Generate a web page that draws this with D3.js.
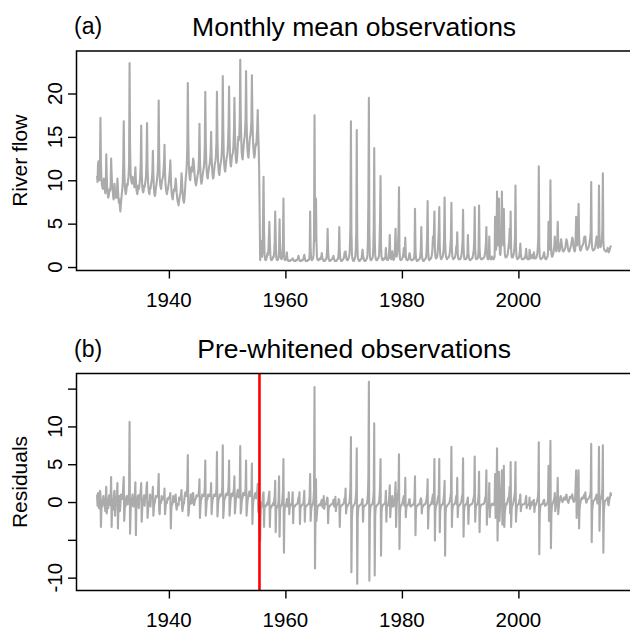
<!DOCTYPE html>
<html><head><meta charset="utf-8">
<script src="https://cdn.jsdelivr.net/npm/d3@7/dist/d3.min.js"></script>
<style>
body{margin:0;background:#fff}
svg{display:block}
text{font-family:"Liberation Sans",Arial,Helvetica,sans-serif;fill:#000}
</style>
</head><body>
<svg id="chart" width="630" height="633"></svg>
<script>
// ---------------- DATA ----------------
const startYear = 1927;               // first row = Sep–Dec 1927, then one row (Jan..Dec) per year
const xTicks = [1940, 1960, 1980, 2000];
const flowTicks = [0, 5, 10, 15, 20];
const residTicks = [-10, -5, 0, 5, 10, 15];
const residTickLabels = ["-10", "", "0", "5", "10", ""];
const changePoint = 1955.55;
const titleA = "Monthly mean observations";
const titleB = "Pre-whitened observations";

// Monthly mean river flow
const flow = [
/*1927*/[10.5,9.8,11.8,12.2],
/*1928*/[10.5,10.0,11.5,17.2,12.0,10.2,9.5,9.2,9.0,9.6,10.2,9.8],
/*1929*/[9.0,8.5,9.2,13.0,10.5,9.0,8.4,8.0,8.2,8.6,9.0,8.8],
/*1930*/[9.4,12.5,10.8,9.5,9.0,8.3,7.8,8.2,9.6,8.5,8.0,8.3],
/*1931*/[8.0,8.6,10.2,9.0,8.0,7.4,7.8,7.0,6.4,7.2,7.8,8.4],
/*1932*/[9.0,9.8,12.0,16.8,11.5,9.5,8.8,8.4,8.6,9.2,9.6,9.4],
/*1933*/[10.0,10.5,12.0,23.5,14.0,11.0,10.2,9.8,9.6,10.4,10.2,9.8],
/*1934*/[9.6,9.2,10.4,11.5,10.0,9.0,8.6,8.4,8.8,9.4,9.0,9.2],
/*1935*/[9.8,10.5,12.0,16.3,11.0,9.4,8.8,8.6,8.8,9.4,9.2,9.6],
/*1936*/[10.0,10.6,12.5,16.6,11.5,9.8,9.0,8.6,8.4,9.2,9.0,9.4],
/*1937*/[9.8,10.2,11.0,13.4,10.8,9.2,8.5,8.2,8.4,9.0,9.4,9.8],
/*1938*/[10.4,11.0,12.8,19.2,13.0,10.4,9.6,9.2,9.0,9.6,10.0,10.2],
/*1939*/[10.5,11.2,12.0,14.1,11.0,9.6,9.0,8.6,8.4,8.8,9.0,9.4],
/*1940*/[9.8,10.5,11.2,12.3,10.5,9.0,8.4,8.0,7.8,8.4,8.8,9.0],
/*1941*/[8.8,9.4,10.2,9.6,8.6,8.0,7.6,7.4,7.1,7.6,8.0,8.4],
/*1942*/[8.6,9.4,10.8,10.0,8.8,8.0,7.6,7.4,7.8,8.6,9.6,10.4],
/*1943*/[11.0,12.0,14.0,21.2,15.0,12.0,10.8,10.2,10.0,10.8,11.5,11.2],
/*1944*/[11.0,11.8,12.5,12.2,11.5,10.6,10.0,9.6,9.4,9.8,10.2,10.6],
/*1945*/[10.8,11.4,12.5,16.5,12.5,10.8,10.0,9.6,9.8,10.4,10.8,11.2],
/*1946*/[11.5,12.2,14.0,20.2,14.5,12.0,11.0,10.4,10.2,10.8,11.2,11.6],
/*1947*/[11.8,12.4,13.2,15.6,12.8,11.4,10.6,10.2,10.4,11.0,11.6,12.0],
/*1948*/[12.2,13.0,14.5,20.2,15.0,12.6,11.4,10.8,10.6,11.2,11.8,12.0],
/*1949*/[12.4,13.2,15.0,22.0,16.0,13.0,11.8,11.2,11.0,11.6,12.2,12.6],
/*1950*/[12.8,13.4,14.5,16.5,20.8,15.0,12.6,11.8,11.6,12.2,12.8,13.0],
/*1951*/[13.2,14.0,15.5,19.5,15.8,13.5,12.4,12.0,12.2,13.0,14.2,15.0],
/*1952*/[14.6,15.2,17.0,23.9,17.5,14.8,13.2,12.6,12.4,13.2,14.0,14.6],
/*1953*/[15.0,15.6,17.2,22.6,17.0,14.6,13.4,12.8,12.6,13.4,14.4,15.0],
/*1954*/[15.2,15.8,16.8,22.1,17.4,15.0,13.8,13.0,12.6,13.0,13.8,14.2],
/*1955*/[14.0,15.0,16.0,18.1,15.5,13.8,11.0,6.0,0.8,1.5,2.5,3.0],
/*1956*/[1.2,2.0,5.6,10.4,4.5,1.5,0.9,0.8,0.8,1.0,1.2,1.6],
/*1957*/[1.4,2.0,3.5,5.2,3.0,1.4,0.9,0.8,0.8,0.9,1.0,1.2],
/*1958*/[1.2,1.8,3.0,6.4,3.5,1.2,0.9,0.8,0.8,0.9,1.2,2.0],
/*1959*/[5.5,2.2,1.2,1.0,0.9,1.0,1.6,3.0,7.9,2.0,0.9,0.8],
/*1960*/[0.8,0.9,1.0,1.7,1.0,0.8,0.7,0.7,0.7,0.7,0.8,0.8],
/*1961*/[0.8,0.8,0.9,1.0,0.9,0.8,0.7,0.7,0.7,0.7,0.8,0.8],
/*1962*/[0.8,0.9,1.1,1.3,1.0,0.8,0.7,0.7,0.7,0.7,0.8,0.8],
/*1963*/[0.8,0.9,1.2,1.4,1.0,0.8,0.7,0.7,0.7,0.7,0.8,0.8],
/*1964*/[0.8,0.9,1.5,6.4,2.0,1.0,0.8,0.8,0.9,1.0,1.4,3.5],
/*1965*/[17.5,6.0,3.0,7.9,3.0,1.2,0.9,0.8,0.8,0.8,0.9,1.0],
/*1966*/[0.9,1.0,1.2,1.6,1.1,0.9,0.8,0.7,0.7,0.7,0.8,0.9],
/*1967*/[0.9,1.2,2.0,4.4,1.8,1.0,0.8,0.7,0.7,0.8,0.8,0.9],
/*1968*/[0.9,1.0,1.1,1.3,1.0,0.8,0.7,0.7,0.7,0.7,0.8,0.9],
/*1969*/[0.9,1.1,2.0,4.6,1.8,1.0,0.8,0.7,0.7,0.8,0.8,0.9],
/*1970*/[1.0,1.2,1.7,1.5,1.8,1.2,0.9,0.8,0.8,0.8,1.0,1.2],
/*1971*/[1.5,2.5,5.0,16.8,4.0,1.5,1.0,0.8,0.7,0.7,0.8,1.0],
/*1972*/[1.2,2.0,4.0,15.8,3.5,1.2,0.9,0.8,0.7,0.7,0.8,0.9],
/*1973*/[0.9,1.0,1.5,2.0,1.4,1.0,0.8,0.7,0.7,0.7,0.8,0.9],
/*1974*/[1.0,1.4,3.0,8.0,19.5,4.0,1.2,0.9,0.8,0.8,0.9,1.0],
/*1975*/[1.2,2.0,4.5,13.7,3.5,1.4,1.0,0.8,0.8,0.8,0.9,1.0],
/*1976*/[1.1,1.4,3.0,5.5,10.5,2.5,1.2,0.9,0.8,0.8,0.9,1.0],
/*1977*/[0.9,1.0,1.2,2.2,1.2,0.9,0.8,0.8,0.9,1.2,2.0,3.7],
/*1978*/[1.5,1.0,0.9,1.2,1.8,1.2,0.9,0.8,1.0,1.5,2.8,4.4],
/*1979*/[1.4,1.2,1.4,2.0,2.8,4.0,9.2,2.0,1.0,0.8,0.8,0.9],
/*1980*/[0.9,1.0,1.2,1.6,2.2,1.5,1.2,3.4,1.4,0.9,0.8,0.8],
/*1981*/[0.8,0.9,1.0,1.4,1.6,1.2,0.9,0.8,0.8,0.8,0.8,0.9],
/*1982*/[0.9,1.0,1.6,6.7,2.0,1.0,0.8,0.7,0.7,0.8,0.8,0.9],
/*1983*/[0.9,1.0,1.4,2.0,4.6,1.6,1.0,0.8,0.7,0.7,0.8,0.9],
/*1984*/[0.9,1.0,1.2,2.0,3.5,7.6,2.0,1.0,0.8,0.8,0.9,1.0],
/*1985*/[1.0,1.2,1.5,2.2,3.5,2.5,4.0,6.4,2.0,1.2,1.0,1.0],
/*1986*/[1.1,1.3,2.0,3.0,4.2,6.9,2.4,1.4,1.0,0.9,1.0,1.1],
/*1987*/[1.2,1.5,2.0,3.6,8.0,3.0,1.6,1.2,1.0,0.9,1.0,1.1],
/*1988*/[1.1,1.2,1.4,1.8,2.5,3.5,7.4,2.0,1.2,1.0,0.9,1.0],
/*1989*/[1.0,1.1,1.3,1.6,2.4,2.0,4.0,1.6,1.0,0.9,0.9,0.9],
/*1990*/[0.9,1.0,1.2,1.5,2.2,3.0,6.6,2.4,1.2,0.9,0.9,0.9],
/*1991*/[0.9,1.0,1.2,1.6,3.7,1.6,1.1,0.9,0.8,0.8,0.9,0.9],
/*1992*/[1.0,1.0,1.2,1.5,2.0,3.0,6.9,2.0,1.1,0.9,0.9,1.0],
/*1993*/[1.0,1.2,2.0,7.1,2.2,1.2,1.0,0.9,0.9,0.9,1.0,1.0],
/*1994*/[1.0,1.1,1.2,1.5,2.0,2.6,4.6,1.8,1.1,0.9,0.9,1.0],
/*1995*/[3.5,1.4,1.0,0.9,0.9,1.0,1.2,1.0,0.9,0.9,1.0,1.2],
/*1996*/[5.8,2.5,2.0,3.5,8.7,4.0,2.5,3.5,7.9,3.0,1.5,1.4],
/*1997*/[2.5,3.5,8.7,4.0,3.0,2.5,6.7,3.0,1.6,1.2,1.1,1.2],
/*1998*/[1.2,1.3,1.5,2.0,2.5,3.0,4.4,2.2,6.4,2.0,1.2,1.1],
/*1999*/[1.1,1.2,1.4,1.8,2.4,3.5,9.4,2.5,1.3,1.0,0.9,1.0],
/*2000*/[1.0,1.1,1.4,1.8,2.7,1.6,1.1,0.9,0.9,0.9,0.9,1.0],
/*2001*/[1.0,1.0,1.2,1.5,2.1,1.4,1.0,0.9,0.9,0.9,0.9,2.0],
/*2002*/[1.6,1.1,1.0,1.1,1.3,1.4,1.2,1.0,1.7,1.2,1.0,1.0],
/*2003*/[1.0,1.1,1.3,1.6,2.2,3.5,11.6,2.5,1.2,1.0,0.9,1.0],
/*2004*/[1.0,1.0,1.1,1.3,1.5,1.7,1.3,1.0,0.9,0.9,1.0,1.1],
/*2005*/[1.2,1.6,5.2,2.5,2.0,3.0,10.0,3.0,1.5,1.2,1.2,1.4],
/*2006*/[1.6,2.0,2.4,3.5,2.4,2.0,1.8,2.4,3.0,5.2,2.8,2.0],
/*2007*/[1.8,1.9,2.2,2.8,3.2,2.8,2.3,2.0,1.8,1.8,1.9,2.0],
/*2008*/[2.1,2.4,2.8,3.2,3.0,2.6,2.2,1.9,1.8,1.8,2.0,2.2],
/*2009*/[2.4,2.6,3.0,3.4,3.2,2.6,2.2,1.9,1.8,2.0,3.5,5.8],
/*2010*/[3.0,2.5,2.8,4.5,7.3,3.5,2.4,2.0,1.9,2.0,2.2,2.4],
/*2011*/[2.5,2.6,2.8,3.2,3.5,3.0,3.5,2.6,2.2,2.0,2.0,2.1],
/*2012*/[2.2,2.4,2.6,3.0,3.4,4.0,9.8,3.0,2.2,2.0,1.9,2.0],
/*2013*/[2.0,2.1,2.2,2.6,3.0,3.5,3.2,2.6,2.2,2.4,9.4,3.0],
/*2014*/[2.4,2.3,2.4,2.8,3.4,4.5,10.8,3.0,2.2,2.0,1.9,1.9],
/*2015*/[1.8,1.8,1.9,2.0,2.2,1.8,1.7,1.8,2.0,2.2,2.4,2.3]
];

// Pre-whitened residuals
const residuals = [
/*1927*/[1.0,-0.5,1.2,0.4],
/*1928*/[-0.8,0.3,1.5,1.2,-3.3,-1.0,0.2,-0.6,0.4,0.8,-0.3,0.5],
/*1929*/[-0.4,-1.2,0.8,2.0,-1.5,-0.6,0.3,-0.8,0.5,0.9,-0.4,0.2],
/*1930*/[0.6,3.3,-3.3,-0.8,0.4,-1.0,0.5,1.2,1.5,-1.8,-0.5,0.7],
/*1931*/[-0.3,1.0,2.5,-3.5,-1.0,0.3,0.8,-1.2,-0.6,1.0,0.5,0.9],
/*1932*/[0.4,0.9,2.2,3.3,-2.5,-1.2,0.2,-0.5,0.6,0.8,0.1,-0.3],
/*1933*/[0.6,0.5,1.5,10.6,-4.2,-1.8,0.4,-0.3,0.2,1.0,-0.4,-0.6],
/*1934*/[0.2,-0.4,1.2,2.6,-4.4,-0.9,0.4,0.1,0.8,0.9,-0.8,0.5],
/*1935*/[0.7,0.9,1.6,2.5,-2.6,-1.0,0.3,0.2,0.5,0.9,-0.5,0.6],
/*1936*/[0.5,0.8,2.0,2.6,-2.1,-1.2,0.0,-0.2,-0.3,1.0,-0.6,0.6],
/*1937*/[0.6,0.5,0.9,2.0,-1.8,-0.8,-0.2,-0.1,0.4,0.8,0.6,0.7],
/*1938*/[0.8,0.7,1.8,3.7,-1.2,-1.6,0.1,0.0,-0.1,0.8,0.5,0.3],
/*1939*/[0.4,0.7,0.6,1.8,-1.6,-0.9,0.0,-0.2,-0.1,0.5,0.3,0.5],
/*1940*/[0.6,0.7,0.8,1.2,-3.5,-1.0,-0.2,-0.3,0.0,0.8,0.4,0.4],
/*1941*/[0.0,0.7,1.0,-0.5,-1.0,-0.5,-0.3,-0.2,-0.4,0.6,0.5,0.5],
/*1942*/[0.3,0.9,1.6,-0.6,-1.2,-0.7,-0.3,-0.2,0.5,1.0,1.3,1.0],
/*1943*/[0.8,1.2,2.2,6.2,-1.8,-1.4,-0.2,-0.3,0.0,1.0,0.8,-0.2],
/*1944*/[0.2,1.2,1.2,0.4,-0.4,0.0,0.3,0.4,0.5,0.9,0.9,0.8],
/*1945*/[0.8,1.0,1.5,3.0,-2.1,-0.6,0.2,0.4,0.7,1.0,0.9,0.8],
/*1946*/[0.8,1.1,2.0,5.5,-1.8,-0.8,0.3,0.3,0.6,1.0,0.9,0.8],
/*1947*/[0.8,1.0,1.2,2.5,-1.6,-0.4,0.3,0.5,0.7,1.0,1.0,0.9],
/*1948*/[0.8,1.2,1.8,6.6,-1.9,-0.8,0.2,0.4,0.6,1.0,1.0,0.8],
/*1949*/[0.9,1.2,2.0,7.5,-2.1,-1.0,0.2,0.4,0.6,1.0,1.1,0.9],
/*1950*/[0.9,1.1,1.5,2.2,5.5,-1.8,-0.8,0.3,0.6,1.1,1.1,0.8],
/*1951*/[1.2,1.3,1.8,3.4,-1.5,-0.6,0.3,0.6,0.9,1.3,1.6,1.2],
/*1952*/[0.6,1.0,2.0,7.4,-1.5,-1.0,0.0,0.4,0.7,1.2,1.2,1.0],
/*1953*/[0.9,1.0,1.9,5.5,-1.8,-0.8,0.2,0.5,0.7,1.2,1.4,1.0],
/*1954*/[0.8,1.0,1.3,5.1,-2.9,-0.7,0.2,0.4,0.6,1.0,1.2,0.9],
/*1955*/[0.5,1.2,1.4,2.4,-1.3,-0.4,-1.5,-3.5,-5.1,-1.8,-0.4,0.0],
/*1956*/[-0.6,0.2,1.0,1.3,-3.3,-0.8,-0.5,-0.6,-0.5,-0.3,-0.4,0.0],
/*1957*/[-0.3,0.3,1.0,1.4,-3.3,-1.0,-0.6,-0.7,-0.5,-0.4,-0.3,-0.1],
/*1958*/[-0.4,0.2,0.9,2.8,-4.0,-1.2,-0.6,-0.7,-0.5,-0.4,0.2,3.4],
/*1959*/[-4.6,-1.0,-0.5,-0.5,-0.4,-0.2,0.5,1.5,5.7,-6.7,-1.5,-0.6],
/*1960*/[-0.5,-0.3,-0.2,0.4,-0.6,-0.5,-0.4,1.3,-1.6,-0.6,-0.4,-0.3],
/*1961*/[-0.4,-0.3,0.2,1.3,-2.8,-0.7,-0.5,-0.6,-0.5,-0.4,-0.3,-0.3],
/*1962*/[-0.3,-0.2,0.2,0.6,0.2,1.3,-2.9,-0.8,-0.6,-0.5,-0.4,-0.3],
/*1963*/[-0.3,-0.1,0.5,1.5,-2.6,-0.8,-0.6,-0.5,-0.5,-0.4,-0.3,-0.3],
/*1964*/[-0.3,0.0,0.8,3.7,-2.5,-1.2,-0.6,-0.5,-0.3,-0.2,0.4,1.5],
/*1965*/[15.2,-8.8,-2.0,3.0,-2.5,-1.5,-0.7,-0.6,-0.5,-0.4,-0.3,-0.3],
/*1966*/[-0.4,-0.2,0.1,0.3,-0.5,-0.7,-0.6,0.8,-0.9,-0.4,-0.3,-0.3],
/*1967*/[-0.3,0.1,0.6,0.5,-2.8,-1.0,-0.6,-0.5,-0.5,-0.4,-0.3,-0.3],
/*1968*/[-0.3,-0.2,0.0,0.3,-0.5,-0.6,-0.6,0.7,-1.2,-0.5,-0.4,-0.3],
/*1969*/[-0.3,0.0,0.4,0.2,-3.3,-0.9,-0.6,-0.5,-0.4,-0.4,-0.3,-0.3],
/*1970*/[-0.2,0.1,0.5,0.3,1.8,-1.5,-0.8,-0.6,-0.5,-0.4,-0.3,-0.2],
/*1971*/[-0.1,0.8,2.0,8.6,-9.3,-2.0,-1.0,-0.6,-0.5,-0.4,-0.3,-0.2],
/*1972*/[0.0,0.6,1.5,7.1,-10.8,-2.2,-0.9,-0.6,-0.5,-0.4,-0.4,-0.3],
/*1973*/[-0.3,-0.2,0.3,0.4,-2.6,-0.7,-0.6,-0.5,-0.5,-0.4,-0.3,-0.3],
/*1974*/[-0.2,0.2,1.0,3.5,15.9,-10.4,-2.0,-0.8,-0.5,-0.4,-0.3,-0.3],
/*1975*/[-0.1,0.5,1.5,10.4,-9.7,-1.8,-0.8,-0.6,-0.5,-0.4,-0.3,-0.3],
/*1976*/[-0.2,0.1,0.8,2.0,5.7,-7.1,-1.4,-0.7,-0.5,-0.4,-0.3,-0.3],
/*1977*/[-0.3,-0.2,0.1,1.5,-2.6,-0.7,-0.5,-0.5,-0.3,0.2,0.8,2.2],
/*1978*/[-2.0,-0.8,-0.4,0.2,0.8,-0.6,-0.6,-0.5,0.0,0.6,1.2,2.6],
/*1979*/[-3.3,-0.9,0.3,0.8,1.2,1.8,6.3,-6.2,-1.5,-0.7,-0.5,-0.4],
/*1980*/[-0.3,-0.1,0.2,0.5,0.8,-0.5,-0.3,3.2,-2.0,-0.9,-0.5,-0.4],
/*1981*/[-0.4,-0.3,-0.1,0.3,0.4,-0.4,-0.6,-0.5,-0.5,-0.4,-0.4,-0.3],
/*1982*/[-0.3,-0.1,0.4,3.4,-4.4,-1.0,-0.6,-0.5,-0.5,-0.4,-0.3,-0.3],
/*1983*/[-0.3,-0.1,0.2,0.5,0.4,-1.5,-0.7,-0.6,-0.5,-0.4,-0.3,-0.3],
/*1984*/[-0.3,-0.1,0.1,0.5,1.0,3.0,-3.5,-1.0,-0.6,-0.5,-0.4,-0.3],
/*1985*/[-0.3,0.0,0.2,0.6,1.0,-0.3,1.2,5.7,-5.1,-1.2,-0.6,-0.4],
/*1986*/[-0.3,0.0,0.5,0.8,1.0,5.7,-4.0,-1.2,-0.7,-0.5,-0.4,-0.3],
/*1987*/[-0.3,0.0,0.4,1.2,2.8,-7.1,-1.5,-0.7,-0.6,-0.5,-0.4,-0.3],
/*1988*/[-0.3,-0.2,0.0,0.3,0.7,1.2,7.3,-3.3,-1.0,-0.6,-0.4,-0.3],
/*1989*/[-0.3,-0.2,0.0,0.3,0.8,-0.3,3.2,-2.0,-0.8,-0.5,-0.4,-0.4],
/*1990*/[-0.3,-0.2,0.0,0.3,0.8,1.0,5.8,-4.6,-1.2,-0.6,-0.4,-0.4],
/*1991*/[-0.3,-0.2,0.0,0.3,0.6,-2.9,-0.8,-0.5,-0.4,-0.4,-0.3,-0.3],
/*1992*/[-0.3,-0.2,0.0,0.3,0.6,1.0,6.0,-2.6,-0.9,-0.5,-0.4,-0.3],
/*1993*/[-0.2,0.2,1.0,4.0,-4.0,-1.0,-0.5,-0.4,-0.4,-0.3,-0.3,-0.3],
/*1994*/[-0.3,-0.2,0.0,0.3,0.6,0.9,4.2,-3.0,-1.0,-0.5,-0.4,-0.3],
/*1995*/[2.5,-2.0,-0.8,-0.5,-0.4,-0.3,-0.2,-0.3,-0.4,-0.3,-0.2,0.0],
/*1996*/[3.7,-2.1,0.5,1.5,7.1,-5.1,-1.0,2.0,4.0,-2.5,-1.0,0.5],
/*1997*/[1.2,2.0,4.2,-3.0,-1.0,-0.5,4.8,-3.3,-1.5,-0.8,-0.5,-0.2],
/*1998*/[-0.3,-0.1,0.2,0.5,0.6,0.8,2.0,-1.5,5.3,-3.3,-1.0,-0.5],
/*1999*/[-0.4,-0.2,0.1,0.5,0.8,1.5,5.3,-2.6,-1.2,-0.6,-0.4,-0.3],
/*2000*/[-0.3,-0.1,0.2,0.5,1.0,-1.2,-0.6,-0.4,-0.4,-0.3,-0.3,-0.3],
/*2001*/[-0.3,-0.2,0.0,0.3,0.8,-0.8,-0.5,-0.4,-0.4,-0.3,-0.3,0.6],
/*2002*/[-0.9,-0.6,-0.4,-0.2,0.0,0.1,-0.2,-0.4,0.3,-1.3,-0.5,-0.4],
/*2003*/[-0.4,-0.2,0.0,0.3,0.6,1.5,7.9,-6.9,-1.5,-0.7,-0.4,-0.3],
/*2004*/[-0.3,-0.3,-0.2,0.0,0.2,0.3,-0.3,-0.5,-0.4,-0.4,-0.3,-0.2],
/*2005*/[-0.1,0.3,4.8,-2.5,-0.5,1.0,8.1,-6.1,-1.5,-0.6,-0.3,-0.1],
/*2006*/[0.0,0.3,0.5,1.2,-1.2,-0.6,-0.4,0.5,0.8,3.2,-1.6,-0.8],
/*2007*/[-0.2,0.2,0.5,0.8,0.6,0.3,0.1,0.0,0.2,0.4,0.6,0.5],
/*2008*/[0.3,0.6,0.8,1.0,0.5,0.2,0.0,-0.1,0.2,0.4,0.7,0.6],
/*2009*/[0.5,0.7,0.9,1.0,0.6,0.2,0.0,0.1,0.3,0.6,2.5,4.2],
/*2010*/[-2.1,-0.6,0.5,2.0,4.2,-3.5,-1.0,-0.3,0.0,0.3,0.5,0.6],
/*2011*/[0.4,0.5,0.7,0.9,1.0,0.5,1.3,0.2,-0.1,0.1,0.3,0.4],
/*2012*/[0.4,0.5,0.6,0.8,1.0,1.5,7.7,-5.3,-1.2,-0.4,0.0,0.2],
/*2013*/[0.2,0.3,0.4,0.6,0.8,1.0,0.3,-0.2,-0.1,0.4,7.3,-3.8],
/*2014*/[-0.6,0.2,0.4,0.7,1.0,1.8,7.5,-6.7,-1.5,-0.4,0.0,0.2],
/*2015*/[0.2,0.3,0.4,0.5,0.6,-0.3,-0.4,0.2,0.5,0.8,1.2,0.8]
];

// ---------------- HELPERS ----------------
function toSeries(rows) {
  const out = [];
  rows.forEach((row, i) => {
    const year = startYear + i;
    const offset = i === 0 ? 12 - row.length : 0;
    row.forEach((v, j) => out.push({ t: year + (offset + j) / 12, v }));
  });
  return out;
}
const flowSeries = toSeries(flow);
const residSeries = toSeries(residuals);

// ---------------- LAYOUT ----------------
const svg = d3.select("#chart");
const left = 76.5, right = 631.7;
const panels = [
  { top: 51, bottom: 270.5, domain: [-0.4, 24.9], data: flowSeries, ticks: flowTicks,
    labels: flowTicks.map(String), title: titleA, tag: "(a)", ylab: "River flow" },
  { top: 373.5, bottom: 590.5, domain: [-11.7, 17.0], data: residSeries, ticks: residTicks,
    labels: residTickLabels, title: titleB, tag: "(b)", ylab: "Residuals", red: true }
];

const x = d3.scaleLinear().domain([1924.14, 2019.45]).range([left, right]);

panels.forEach(p => {
  const y = d3.scaleLinear().domain(p.domain).range([p.bottom, p.top]);
  const g = svg.append("g");

  // series line
  g.append("path")
    .datum(p.data)
    .attr("d", d3.line().x(d => x(d.t)).y(d => y(d.v)))
    .attr("fill", "none")
    .attr("stroke", "#ababab")
    .attr("stroke-width", 2.1)
    .attr("stroke-linejoin", "round");

  if (p.red) {
    g.append("line")
      .attr("x1", x(changePoint)).attr("x2", x(changePoint))
      .attr("y1", p.top).attr("y2", p.bottom)
      .attr("stroke", "#ff0000").attr("stroke-width", 2.6);
  }

  // box
  g.append("rect")
    .attr("x", left).attr("y", p.top)
    .attr("width", right - left).attr("height", p.bottom - p.top)
    .attr("fill", "none").attr("stroke", "#000").attr("stroke-width", 1.5);

  // x axis ticks
  const xa = g.append("g").attr("transform", `translate(0,${p.bottom})`)
    .call(d3.axisBottom(x).tickValues(xTicks).tickSize(8).tickSizeOuter(0).tickFormat(""));
  xa.select(".domain").remove();
  xa.selectAll("line").attr("stroke", "#000").attr("stroke-width", 1.4);
  xTicks.forEach(t => {
    g.append("text").attr("x", x(t)).attr("y", p.bottom + 36.5)
      .attr("text-anchor", "middle").attr("font-size", 20.5).text(String(t));
  });

  // y axis ticks
  const ya = g.append("g").attr("transform", `translate(${left},0)`)
    .call(d3.axisLeft(y).tickValues(p.ticks).tickSize(8.5).tickSizeOuter(0).tickFormat(""));
  ya.select(".domain").remove();
  ya.selectAll("line").attr("stroke", "#000").attr("stroke-width", 1.4);
  p.ticks.forEach((t, i) => {
    if (!p.labels[i]) return;
    const ty = y(t);
    g.append("text").attr("x", 62).attr("y", ty)
      .attr("transform", `rotate(-90,62,${ty})`)
      .attr("text-anchor", "middle").attr("font-size", 20.5).text(p.labels[i]);
  });

  // y label
  const my = (p.top + p.bottom) / 2;
  g.append("text").attr("x", 27).attr("y", my)
    .attr("transform", `rotate(-90,27,${my})`)
    .attr("text-anchor", "middle").attr("font-size", 21).text(p.ylab);

  // titles
  g.append("text").attr("x", (left + right) / 2).attr("y", p.top - 15.5)
    .attr("text-anchor", "middle").attr("font-size", 26.5).text(p.title);
  g.append("text").attr("x", 74).attr("y", p.top - 17)
    .attr("text-anchor", "start").attr("font-size", 23).text(p.tag);
});
</script>
</body></html>
